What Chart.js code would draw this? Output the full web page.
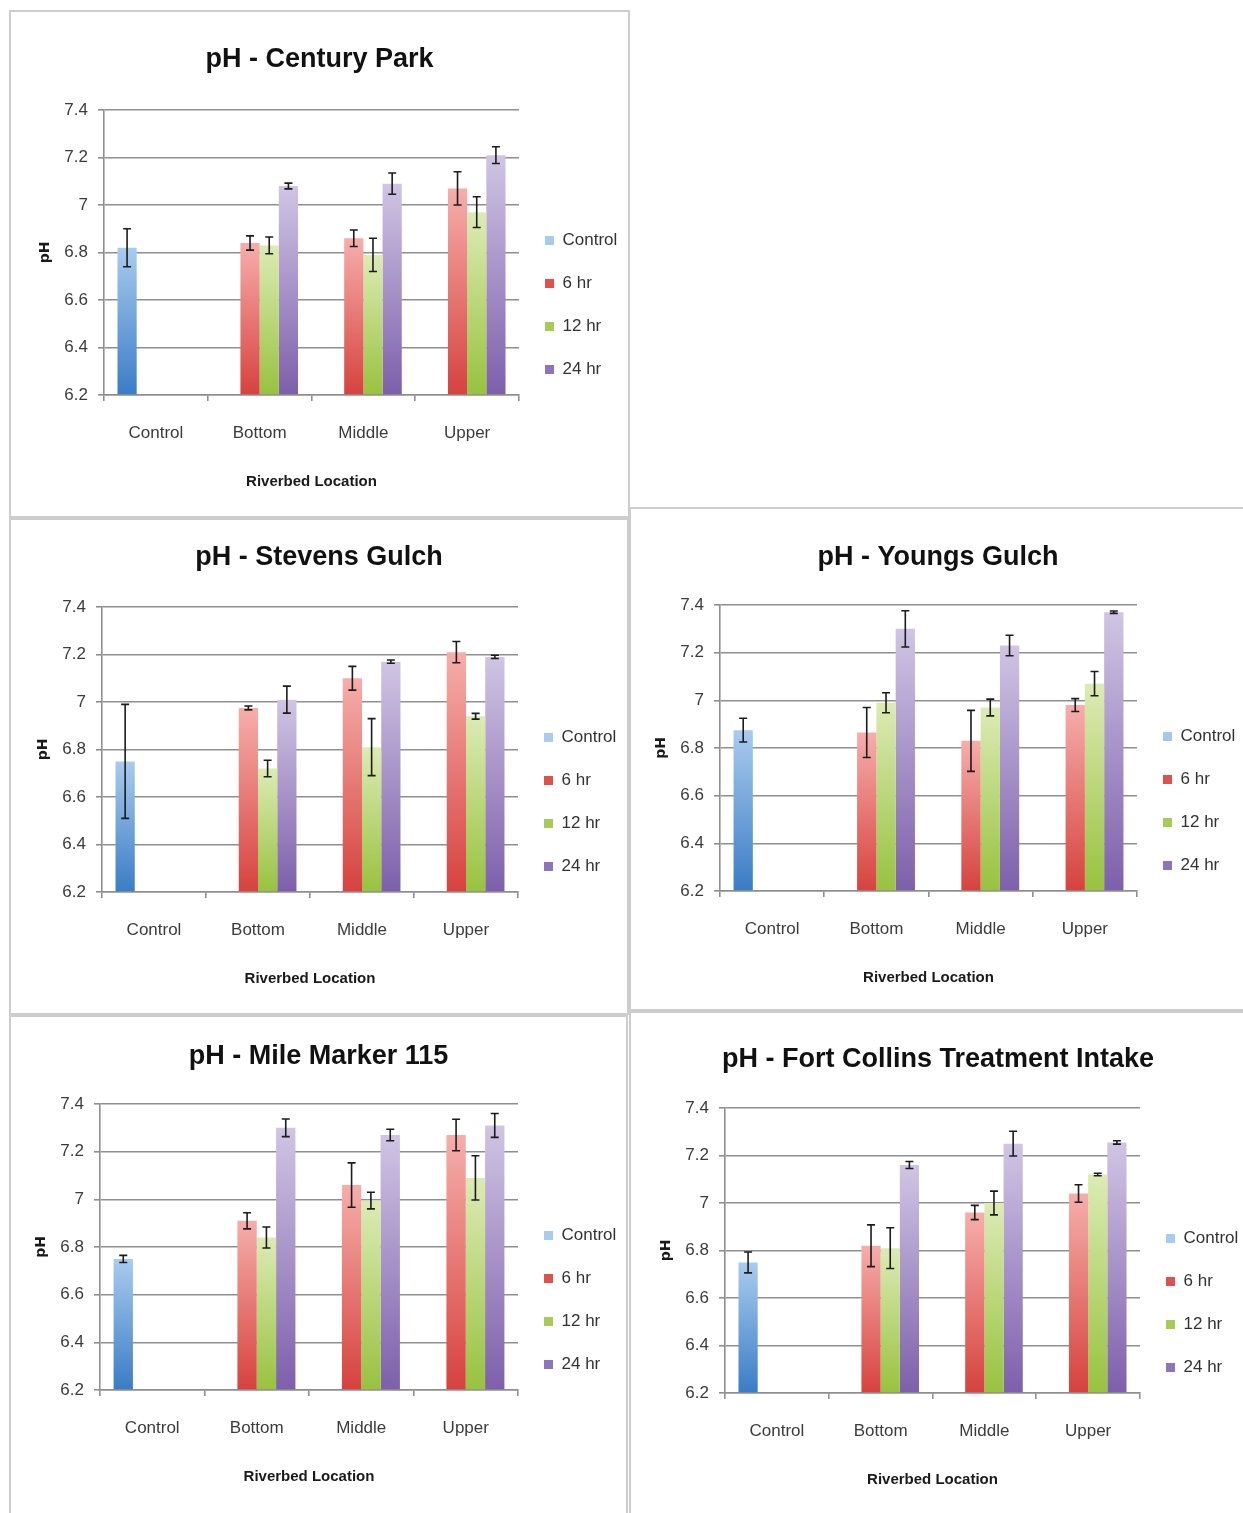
<!DOCTYPE html>
<html>
<head>
<meta charset="utf-8">
<script src="https://cdn.jsdelivr.net/npm/chart.js@4.4.1/dist/chart.umd.min.js"></script>
<style>
  html, body { margin: 0; padding: 0; background: #ffffff; }
  body { width: 1243px; height: 1513px; position: relative; overflow: hidden; }
  .panel { position: absolute; box-sizing: border-box; border: 2px solid #cdcdcd; background: #fff; }
  .panel .inner { position: relative; width: 100%; height: 100%; }
</style>
</head>
<body>
<div class="panel" id="p1"><div class="inner"><canvas id="c1"></canvas></div></div>
<div class="panel" id="p2"><div class="inner"><canvas id="c2"></canvas></div></div>
<div class="panel" id="p3"><div class="inner"><canvas id="c3"></canvas></div></div>
<div class="panel" id="p4"><div class="inner"><canvas id="c4"></canvas></div></div>
<div class="panel" id="p5"><div class="inner"><canvas id="c5"></canvas></div></div>
<script>
// ---------------- DATA ----------------
const categories = ['Control', 'Bottom', 'Middle', 'Upper'];
const seriesNames = ['Control', '6 hr', '12 hr', '24 hr'];
const yTickLabels = ['6.2', '6.4', '6.6', '6.8', '7', '7.2', '7.4'];
const xAxisTitle = 'Riverbed Location';
const yAxisTitle = 'pH';
const Y_MIN = 6.2, Y_MAX = 7.4, Y_STEP = 0.2;

// Century Park
const cpControl = [6.82, null, null, null];
const cp6hr     = [null, 6.84, 6.86, 7.07];
const cp12hr    = [null, 6.83, 6.79, 6.97];
const cp24hr    = [null, 7.08, 7.09, 7.21];
const cpControlErr = [0.08, null, null, null];
const cp6hrErr     = [null, 0.03, 0.035, 0.07];
const cp12hrErr    = [null, 0.035, 0.07, 0.065];
const cp24hrErr    = [null, 0.012, 0.045, 0.035];

// Stevens Gulch
const sgControl = [6.75, null, null, null];
const sg6hr     = [null, 6.975, 7.10, 7.21];
const sg12hr    = [null, 6.72, 6.81, 6.94];
const sg24hr    = [null, 7.01, 7.17, 7.19];
const sgControlErr = [0.24, null, null, null];
const sg6hrErr     = [null, 0.008, 0.05, 0.045];
const sg12hrErr    = [null, 0.035, 0.12, 0.012];
const sg24hrErr    = [null, 0.057, 0.007, 0.007];

// Youngs Gulch
const ygControl = [6.875, null, null, null];
const yg6hr     = [null, 6.865, 6.83, 6.98];
const yg12hr    = [null, 6.99, 6.97, 7.07];
const yg24hr    = [null, 7.30, 7.23, 7.37];
const ygControlErr = [0.05, null, null, null];
const yg6hrErr     = [null, 0.105, 0.128, 0.027];
const yg12hrErr    = [null, 0.042, 0.035, 0.051];
const yg24hrErr    = [null, 0.076, 0.043, 0.005];

// Mile Marker 115
const mmControl = [6.75, null, null, null];
const mm6hr     = [null, 6.91, 7.06, 7.27];
const mm12hr    = [null, 6.84, 6.995, 7.09];
const mm24hr    = [null, 7.30, 7.27, 7.31];
const mmControlErr = [0.015, null, null, null];
const mm6hrErr     = [null, 0.034, 0.093, 0.066];
const mm12hrErr    = [null, 0.044, 0.035, 0.093];
const mm24hrErr    = [null, 0.037, 0.024, 0.05];

// Fort Collins Treatment Intake
const fcControl = [6.75, null, null, null];
const fc6hr     = [null, 6.82, 6.96, 7.04];
const fc12hr    = [null, 6.81, 7.00, 7.12];
const fc24hr    = [null, 7.16, 7.25, 7.255];
const fcControlErr = [0.044, null, null, null];
const fc6hrErr     = [null, 0.088, 0.03, 0.037];
const fc12hrErr    = [null, 0.086, 0.05, 0.005];
const fc24hrErr    = [null, 0.015, 0.052, 0.007];

const chartTitles = [
  'pH - Century Park', 'pH - Stevens Gulch', 'pH - Youngs Gulch',
  'pH - Mile Marker 115', 'pH - Fort Collins Treatment Intake'
];
const chartValues = [
  [cpControl, cp6hr, cp12hr, cp24hr],
  [sgControl, sg6hr, sg12hr, sg24hr],
  [ygControl, yg6hr, yg12hr, yg24hr],
  [mmControl, mm6hr, mm12hr, mm24hr],
  [fcControl, fc6hr, fc12hr, fc24hr]
];
const chartErrors = [
  [cpControlErr, cp6hrErr, cp12hrErr, cp24hrErr],
  [sgControlErr, sg6hrErr, sg12hrErr, sg24hrErr],
  [ygControlErr, yg6hrErr, yg12hrErr, yg24hrErr],
  [mmControlErr, mm6hrErr, mm12hrErr, mm24hrErr],
  [fcControlErr, fc6hrErr, fc12hrErr, fc24hrErr]
];

// ---------------- LAYOUT / STYLE ----------------
const panelBoxes = [
  {left: 9,   top: 10,   width: 621, height: 508},
  {left: 9,   top: 518,  width: 620, height: 497},
  {left: 629, top: 507,  width: 618, height: 504},
  {left: 9,   top: 1015, width: 619, height: 502},
  {left: 629, top: 1011, width: 618, height: 506}
];
// target plot areas & title centre, relative to canvas
const panelAreas = [
  {titleY: 48, left: 93, top: 98, right: 508, bottom: 383},
  {titleY: 38, left: 91, top: 87, right: 507, bottom: 372},
  {titleY: 49, left: 89, top: 96, right: 506, bottom: 382},
  {titleY: 40, left: 89, top: 87, right: 507, bottom: 373},
  {titleY: 47, left: 94, top: 95, right: 509, bottom: 380}
];
const LEGEND_DY = 9;
const seriesStyle = [
  {light: '#a9cbee', dark: '#3a7cc6', solid: '#4a8bd2'},
  {light: '#f6aeab', dark: '#d6423e', solid: '#e0504d'},
  {light: '#dcebb5', dark: '#98c23f', solid: '#a6cc58'},
  {light: '#d0c5e4', dark: '#7d5fab', solid: '#8e74b8'}
];
const SANS = "'Liberation Sans', Arial, sans-serif";
const GRID = '#8f8f8f';

function gradFill(st) {
  return (c) => {
    const chart = c.chart;
    const area = chart.chartArea;
    if (c.type !== 'data' || !area || c.raw == null || !chart.scales.y) return st.solid;
    const top = chart.scales.y.getPixelForValue(c.raw);
    const g = chart.ctx.createLinearGradient(0, top, 0, area.bottom);
    g.addColorStop(0, st.light);
    g.addColorStop(1, st.dark);
    return g;
  };
}

const errorBarPlugin = {
  id: 'errorBars',
  afterDatasetsDraw(chart) {
    const ctx = chart.ctx;
    const y = chart.scales.y;
    ctx.save();
    ctx.strokeStyle = '#1c1c1c';
    ctx.lineWidth = 1.6;
    chart.data.datasets.forEach((ds, i) => {
      const meta = chart.getDatasetMeta(i);
      if (meta.hidden) return;
      meta.data.forEach((bar, j) => {
        const v = ds.data[j];
        const e = ds.errors ? ds.errors[j] : null;
        if (v == null || e == null) return;
        const yt = y.getPixelForValue(v + e);
        const yb = y.getPixelForValue(v - e);
        const x = bar.x;
        ctx.beginPath();
        ctx.moveTo(x, yt); ctx.lineTo(x, yb);
        ctx.moveTo(x - 4, yt); ctx.lineTo(x + 4, yt);
        ctx.moveTo(x - 4, yb); ctx.lineTo(x + 4, yb);
        ctx.stroke();
      });
    });
    ctx.restore();
  }
};

// nudges the right-hand legend down and centres the title on the whole panel
const layoutTweakPlugin = {
  id: 'layoutTweak',
  afterLayout(chart) {
    const lg = chart.legend;
    if (lg) { lg.top += LEGEND_DY; lg.bottom += LEGEND_DY; }
    const tb = chart.titleBlock;
    if (tb) { tb.left = 0; tb.right = chart.width; tb.width = chart.width; }
  }
};

const TITLE_SIZE = 27;
const TITLE_LH = 1.2;

function buildChart(k) {
  const box = panelBoxes[k];
  const el = document.getElementById('p' + (k + 1));
  el.style.left = box.left + 'px';
  el.style.top = box.top + 'px';
  el.style.width = box.width + 'px';
  el.style.height = box.height + 'px';
  const area = panelAreas[k];

  const datasets = seriesNames.map((name, s) => ({
    label: name,
    data: chartValues[k][s],
    errors: chartErrors[k][s],
    backgroundColor: gradFill(seriesStyle[s]),
    borderWidth: 0,
    base: Y_MIN,
    categoryPercentage: 0.74,
    barPercentage: 1.0
  }));

  const pad = {top: area.titleY - TITLE_SIZE * TITLE_LH / 2, left: 10, right: 10, bottom: 10};
  let titlePadBottom = 20;

  const chart = new Chart(document.getElementById('c' + (k + 1)), {
    type: 'bar',
    data: {labels: categories, datasets},
    plugins: [errorBarPlugin, layoutTweakPlugin],
    options: {
      responsive: true,
      maintainAspectRatio: false,
      animation: false,
      layout: {padding: Object.assign({}, pad)},
      plugins: {
        tooltip: {enabled: false},
        title: {
          display: true,
          text: chartTitles[k],
          color: '#111111',
          font: {family: SANS, size: TITLE_SIZE, weight: 'bold', lineHeight: TITLE_LH},
          padding: {top: 0, bottom: titlePadBottom}
        },
        legend: {
          display: true,
          position: 'right',
          align: 'end',
          fullSize: false,
          labels: {
            boxWidth: 9,
            boxHeight: 9,
            padding: 26,
            color: '#333333',
            font: {family: SANS, size: 17}
          }
        }
      },
      scales: {
        x: {
          type: 'category',
          offset: true,
          grid: {display: true, drawOnChartArea: false, drawTicks: true, tickLength: 6,
                 offset: true, color: GRID, lineWidth: 1.6},
          border: {display: true, color: GRID, width: 1.6},
          ticks: {color: '#3c3c3c', font: {family: SANS, size: 17}, padding: 22, maxRotation: 0},
          title: {display: true, text: xAxisTitle, color: '#1a1a1a',
                  font: {family: SANS, size: 15, weight: 'bold'}, padding: {top: 7, bottom: 8}}
        },
        y: {
          min: Y_MIN,
          max: Y_MAX,
          grid: {display: true, drawOnChartArea: true, drawTicks: true, tickLength: 6,
                 color: GRID, lineWidth: 1.6},
          border: {display: true, color: GRID, width: 1.6},
          ticks: {
            stepSize: Y_STEP,
            color: '#3c3c3c',
            font: {family: SANS, size: 17},
            padding: 10,
            callback: (v) => yTickLabels[Math.round((v - Y_MIN) / Y_STEP)]
          },
          title: {display: true, text: yAxisTitle, color: '#1a1a1a',
                  font: {family: "'DejaVu Sans', sans-serif", size: 14, weight: 'bold'},
                  padding: {top: 1, bottom: 1}}
        }
      }
    }
  });

  // fit the plot area to the reference position (two passes)
  for (let pass = 0; pass < 2; pass++) {
    const a = chart.chartArea;
    pad.left += area.left - a.left;
    pad.right += a.right - area.right;
    pad.bottom += a.bottom - area.bottom;
    titlePadBottom += area.top - a.top;
    chart.options.layout.padding = Object.assign({}, pad);
    chart.options.plugins.title.padding = {top: 0, bottom: titlePadBottom};
    chart.update('none');
  }
  return chart;
}

for (let k = 0; k < 5; k++) buildChart(k);
</script>
</body>
</html>
